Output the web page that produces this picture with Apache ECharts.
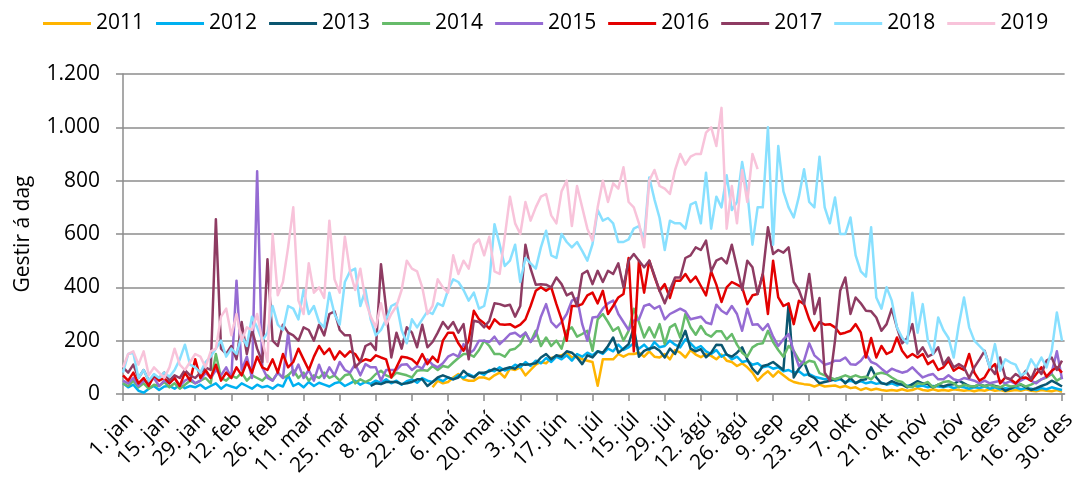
<!DOCTYPE html>
<html><head><meta charset="utf-8">
<script src="https://cdn.jsdelivr.net/npm/echarts@6/dist/echarts.min.js"></script>
<style>html,body{margin:0;padding:0;background:#fff}#c{width:1079px;height:483px}</style>
</head><body><div id="c"></div>
<script>
// ---- axis categories (leap-year calendar, 366 days) ----
const monthNames = ['jan','feb','mar','apr','maí','jún','júl','ágú','sep','okt','nóv','des'];
const monthDays = [31,29,31,30,31,30,31,31,30,31,30,31];
const yTicks = [0,200,400,600,800,1000,1200];
const yAxisTitle = 'Gestir á dag';
const seriesNames = ['2011','2012','2013','2014','2015','2016','2017','2018','2019'];
// values every 2nd day, starting at the given day index
const stepDays = 2;
const startDays = {'2011':120,'2012':0,'2013':96,'2014':0,'2015':0,'2016':0,'2017':0,'2018':0,'2019':0};

const y2011 = [
25,50,40,45,62,75,55,50,50,62,
62,55,70,80,62,95,90,100,70,90,
110,120,115,135,140,145,155,137,140,130,
125,120,31,130,130,130,150,140,150,150,
155,140,160,140,137,150,130,165,155,137,
165,148,138,150,143,130,148,125,120,105,
115,100,80,50,70,85,65,85,70,55,
45,40,37,35,28,35,28,30,32,25,
30,22,25,15,22,15,20,15,12,15,
12,18,12,15,22,15,12,18,12,15,
12,18,15,12,15,10,15,12,18,12,
15,10,12,15,12,18,12,10,15,12,
10,15,8];
const y2012 = [
40,25,35,12,5,20,30,15,28,30,
20,35,22,30,25,35,20,30,40,20,
35,28,22,40,30,20,35,25,30,20,
35,28,70,30,40,25,45,30,42,35,
28,40,45,30,40,50,35,45,38,50,
42,55,40,50,35,48,55,42,60,50,
45,58,48,62,55,70,60,75,65,80,
72,90,85,100,88,95,110,100,120,105,
125,115,135,120,140,130,145,125,150,140,
155,145,160,150,170,160,185,165,175,190,
170,185,165,195,175,180,200,185,175,205,
190,170,180,160,150,165,140,150,130,140,
120,125,110,115,100,105,95,100,85,90,
80,85,70,75,65,60,55,60,50,55,
45,50,42,48,40,45,38,42,35,40,
32,38,30,35,28,32,25,30,28,25,
30,22,28,25,20,25,22,28,20,25,
18,22,20,25,18,22,20,15,22,18,
25,20,15];
const y2013 = [
30,40,37,45,45,45,37,40,45,55,
55,30,45,62,70,62,55,62,87,70,
62,80,80,85,95,87,95,100,95,112,
110,112,115,137,150,130,145,140,160,155,
137,112,145,137,160,155,180,212,155,170,
187,250,140,162,170,175,162,137,170,150,
195,237,170,160,168,138,155,185,184,148,
140,155,175,130,95,75,105,110,120,105,
90,337,62,95,120,70,60,40,45,50,
55,60,40,60,40,52,55,100,62,40,
37,48,40,35,25,37,48,40,37,25,
35,28,35,37,50,40,30,28,35,30,
35,30,25,12,20,30,35,25,15,22,
30,37,50,40,28];
const y2014 = [
40,30,50,25,40,20,35,30,45,25,
40,20,35,50,40,50,60,40,150,60,
50,70,60,80,50,70,60,50,70,50,
80,60,70,90,60,80,50,70,60,80,
60,70,50,70,75,40,55,45,55,75,
87,70,62,80,75,70,62,87,90,87,
105,90,105,100,118,135,150,150,140,165,
200,180,150,150,140,165,170,187,230,195,
237,180,212,180,200,170,237,250,215,225,
237,162,280,300,270,237,250,200,237,320,
270,212,250,212,262,187,250,262,212,300,
250,222,255,225,215,235,235,205,225,185,
155,140,175,187,190,237,195,165,140,180,
162,128,112,125,120,78,70,62,55,62,
70,62,70,62,65,55,75,80,75,62,
50,45,28,25,40,37,45,25,35,45,
48,40,25,35,30,28,37,28,35,28,
25,35,28,30,37,28,35,45,55,62,
75,50,62];
const y2015 = [
50,40,60,30,50,40,60,30,50,40,
60,30,50,60,40,50,80,60,90,70,
100,60,425,90,140,60,835,100,60,50,
80,60,230,70,110,60,90,50,110,60,
100,70,120,90,80,112,70,112,100,100,
50,90,90,90,110,112,90,105,95,130,
110,100,115,140,150,140,187,150,165,200,
200,195,215,187,205,225,230,215,230,195,
220,290,337,270,250,270,300,350,360,262,
200,287,290,320,340,350,300,270,240,275,
280,330,337,320,330,280,300,310,320,310,
280,285,290,268,262,335,312,300,330,300,
237,320,260,262,240,262,215,180,205,225,
160,105,125,190,145,128,110,115,125,125,
137,112,110,125,150,120,112,95,80,95,
87,80,85,100,80,62,70,75,55,55,
70,55,50,60,55,50,40,50,40,45,
50,40,48,38,50,60,50,40,55,65,
80,160,55];
const y2016 = [
70,50,80,40,60,30,70,50,60,40,
60,30,80,50,130,60,90,60,110,50,
80,60,100,70,120,80,140,100,90,130,
80,150,100,120,170,130,90,140,180,150,
170,130,160,140,160,150,120,130,125,145,
137,130,62,100,140,137,130,112,150,112,
140,120,200,230,230,190,162,200,312,280,
265,245,280,262,260,262,250,260,280,330,
387,400,387,400,337,280,200,330,330,337,
370,380,340,387,300,330,362,375,510,160,
500,380,500,440,387,412,360,425,425,450,
420,440,405,370,460,410,345,400,420,410,
400,337,370,375,450,300,500,362,330,340,
262,350,337,280,237,270,260,262,250,225,
230,237,262,230,137,210,137,180,150,160,
212,162,137,150,137,150,112,125,90,100,
125,87,100,90,150,80,50,62,95,112,
40,62,55,40,60,62,50,75,100,65,
87,100,80];
const y2017 = [
100,80,110,60,90,50,70,60,80,50,
70,60,90,70,60,80,100,90,655,170,
150,180,130,270,150,240,170,120,505,200,
180,260,230,220,200,250,240,200,260,220,
300,310,240,220,220,100,120,180,190,165,
487,320,137,230,170,250,230,175,260,175,
195,230,270,245,270,230,262,130,275,270,
250,275,340,337,330,335,290,330,560,470,
410,412,410,400,437,412,370,380,330,450,
462,412,462,420,462,450,490,400,500,525,
500,475,500,445,387,340,390,437,437,510,
520,550,540,575,460,500,510,490,560,475,
390,500,475,375,450,625,525,540,530,550,
420,390,337,450,300,360,80,50,200,387,
437,300,362,340,312,310,287,237,262,320,
250,190,210,262,150,175,140,150,175,110,
137,100,112,100,60,100,130,162,100,75,
137,62,55,75,62,87,55,100,75,125,
137,90,125];
const y2018 = [
80,150,155,60,90,50,75,60,80,65,
90,130,185,110,100,80,120,140,170,200,
140,170,150,220,180,290,250,200,230,330,
260,240,330,320,280,390,300,330,270,250,
380,300,260,420,460,470,330,390,280,220,
240,280,330,340,240,190,280,250,280,310,
300,340,330,390,430,420,390,350,380,320,
330,420,637,560,480,500,560,420,510,490,
470,550,612,520,510,600,570,550,570,537,
500,562,690,650,660,640,570,570,580,620,
630,580,812,730,660,540,650,640,640,620,
710,720,640,830,620,740,700,820,690,720,
870,760,560,700,700,1000,560,930,760,700,
662,740,843,720,700,890,700,640,737,600,
600,662,520,460,440,625,362,320,400,350,
250,212,190,380,230,337,200,150,287,240,
210,137,260,362,250,200,180,160,100,187,
87,130,118,110,70,80,130,100,137,100,
162,306,200];
const y2019 = [
100,150,160,110,160,70,100,80,60,100,
170,110,90,120,150,140,100,160,170,290,
320,220,300,200,250,240,300,200,120,600,
370,420,550,700,350,300,490,380,400,360,
650,430,380,590,460,390,470,350,290,250,
340,260,300,330,390,500,470,460,400,300,
330,430,400,380,520,450,500,470,560,580,
520,590,460,450,590,740,640,600,720,650,
700,740,750,670,640,760,800,630,780,700,
620,575,700,800,720,790,770,850,720,700,
640,550,800,840,780,770,750,840,900,860,
890,900,900,980,1000,930,1073,620,780,640,
840,720,900,843];

const values = {'2011':y2011,'2012':y2012,'2013':y2013,'2014':y2014,'2015':y2015,
  '2016':y2016,'2017':y2017,'2018':y2018,'2019':y2019};
const colors = {'2011':'#FFB400','2012':'#00B0F0','2013':'#0B5670','2014':'#66BB6A','2015':'#956BD3',
  '2016':'#E30000','2017':'#8E3B62','2018':'#88E0FF','2019':'#F8C3DA'};

const categories = [];
monthDays.forEach((n, m) => { for (let d = 1; d <= n; d++) categories.push(d + '. ' + monthNames[m]); });

const FONT = '"Open Sans", "Liberation Sans", sans-serif';
const fmt = v => v >= 1000 ? Math.floor(v/1000) + '.' + String(v % 1000).padStart(3, '0') : String(v);

const series = seriesNames.map(name => ({
  name, type: 'line', showSymbol: false, symbol: 'none',
  lineStyle: { width: 2.5, color: colors[name], join: 'round' },
  itemStyle: { color: colors[name] },
  emphasis: { disabled: true },
  data: values[name].map((v, i) => [startDays[name] + stepDays * i, v])
}));

const chart = echarts.init(document.getElementById('c'), null, { renderer: 'canvas' });
chart.setOption({
  animation: false,
  backgroundColor: '#fff',
  textStyle: { fontFamily: FONT },
  legend: {
    data: seriesNames.map(n => ({ name: n, icon: 'rect' })),
    left: 38, top: 8,
    itemWidth: 48, itemHeight: 3, itemGap: 12,
    textStyle: { fontSize: 21, color: '#000', fontFamily: FONT }
  },
  grid: { left: 123, right: 4, top: 74, bottom: 89, containLabel: false },
  xAxis: {
    type: 'category', data: categories, boundaryGap: false,
    axisLine: { lineStyle: { color: '#8C8C8C', width: 1.5 } },
    axisTick: { show: true, interval: 13, length: 7, lineStyle: { color: '#8C8C8C', width: 1.5 } },
    axisLabel: { interval: 13, rotate: 45, fontSize: 21, color: '#000', margin: 15, verticalAlign: 'top', fontFamily: FONT },
    splitLine: { show: false }
  },
  yAxis: {
    type: 'value', min: yTicks[0], max: yTicks[yTicks.length - 1], interval: 200,
    name: yAxisTitle, nameLocation: 'middle', nameGap: 89, nameRotate: 90,
    nameTextStyle: { fontSize: 21, color: '#000', fontFamily: FONT },
    axisLine: { show: true, lineStyle: { color: '#8C8C8C', width: 1.5 } },
    axisTick: { show: true, length: 7, lineStyle: { color: '#8C8C8C', width: 1.5 } },
    axisLabel: { fontSize: 21, color: '#000', margin: 23, formatter: fmt, fontFamily: FONT },
    splitLine: { show: true, lineStyle: { color: '#8C8C8C', width: 1.5 } }
  },
  series
});
</script></body></html>
